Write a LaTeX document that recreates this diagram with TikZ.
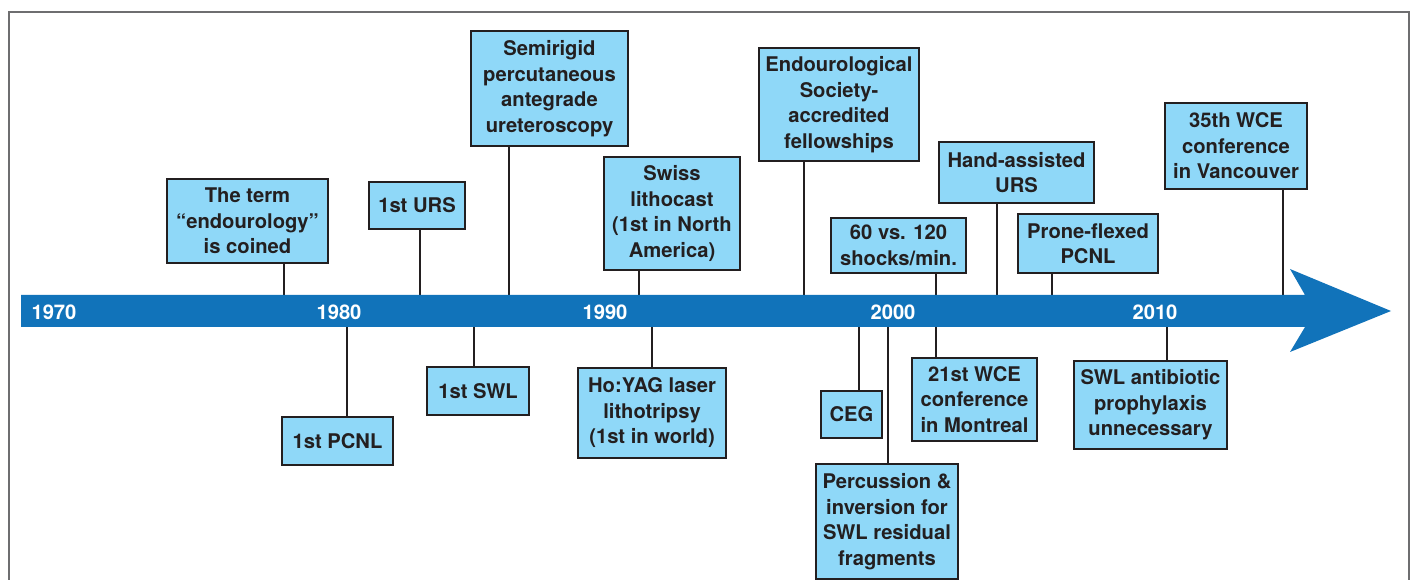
\documentclass[tikz,border=0pt]{standalone}
\usepackage{fontspec}
\setmainfont{TeX Gyre Heros}
\definecolor{barblue}{RGB}{17,115,186}
\definecolor{boxblue}{RGB}{143,216,248}
\definecolor{inkdark}{RGB}{35,31,32}
\definecolor{framegray}{RGB}{110,110,112}
\newlength{\pxu}
\setlength{\pxu}{0.02cm}
\tikzset{
  event/.style={draw=inkdark, line width=1.2pt, fill=boxblue, align=center, inner sep=0pt,
    text=inkdark, font=\bfseries\fontsize{11.5}{14.5}\selectfont},
  sz/.style 2 args={minimum width=#1\pxu, minimum height=#2\pxu},
  stem/.style={draw=inkdark, line width=1pt},
  yr/.style={text=white, font=\bfseries\fontsize{11.5}{14}\selectfont}
}

\begin{document}
\begin{tikzpicture}[x=\pxu, y=-\pxu]
  \useasboundingbox (0,0) rectangle (1414,580);
  \draw[framegray, line width=1.3pt] (9,585) -- (9,12) -- (1409,12) -- (1409,585);

  \node[event, sz={161}{84}] (term) at (247.5,221) {The term\\“endourology”\\is coined};
  \node[event, sz={96}{47}] (urs) at (417,205.5) {1st URS};
  \node[event, sz={157}{115}] (semi) at (549.5,88.5) {Semirigid\\percutaneous\\antegrade\\ureteroscopy};
  \node[event, sz={136}{113}] (swiss) at (672,213.5) {Swiss\\lithocast\\(1st in North\\America)};
  \node[event, sz={160}{113}] (endo) at (839,104.5) {Endourological\\Society-\\accredited\\fellowships};
  \node[event, sz={135}{55}] (shocks) at (898.5,245.5) {60 vs. 120\\shocks/min.};
  \node[event, sz={155}{61}] (hand) at (1016.5,172.5) {Hand-assisted\\URS};
  \node[event, sz={140}{59}] (prone) at (1088,243.5) {Prone-flexed\\PCNL};
  \node[event, sz={142}{86}] (vanc) at (1236,146) {35th WCE\\conference\\in Vancouver};

  \node[event, sz={111}{48}] (pcnl) at (337.5,441) {1st PCNL};
  \node[event, sz={102}{48}] (swl) at (478,391) {1st SWL};
  \node[event, sz={148}{90}] (hoyag) at (652,413) {Ho:YAG laser\\lithotripsy\\(1st in world)};
  \node[event, sz={61}{47}] (ceg) at (851.5,414.5) {CEG};
  \node[event, sz={142}{115}] (perc) at (887,521.5) {Percussion \&\\inversion for\\SWL residual\\fragments};
  \node[event, sz={125}{83}] (wce) at (974.5,399.5) {21st WCE\\conference\\in Montreal};
  \node[event, sz={153}{88}] (abx) at (1150.5,405) {SWL antibiotic\\prophylaxis\\unnecessary};

  \foreach \n/\x in {term/284, urs/420, semi/509, swiss/639, endo/804, shocks/936,
                     hand/997, prone/1052, vanc/1283} {
    \coordinate (t\n) at (\x,311);
    \draw[stem] (\n.south -| t\n) -- (t\n);
  }
  \foreach \n/\x in {pcnl/347, swl/474, hoyag/652, ceg/859, perc/888, wce/936, abx/1167} {
    \coordinate (t\n) at (\x,311);
    \draw[stem] (\n.north -| t\n) -- (t\n);
  }

  \fill[barblue] (21,295) -- (1305,295) -- (1290,269) -- (1391,311) -- (1290,352)
    -- (1305,327) -- (21,327) -- cycle;

  \node[yr] (y1970) at (54,312) {1970};
  \node[yr] (y1980) at (339,312) {1980};
  \node[yr] (y1990) at (605,312) {1990};
  \node[yr] (y2000) at (893,312) {2000};
  \node[yr] (y2010) at (1155,312) {2010};
\end{tikzpicture}
\end{document}
